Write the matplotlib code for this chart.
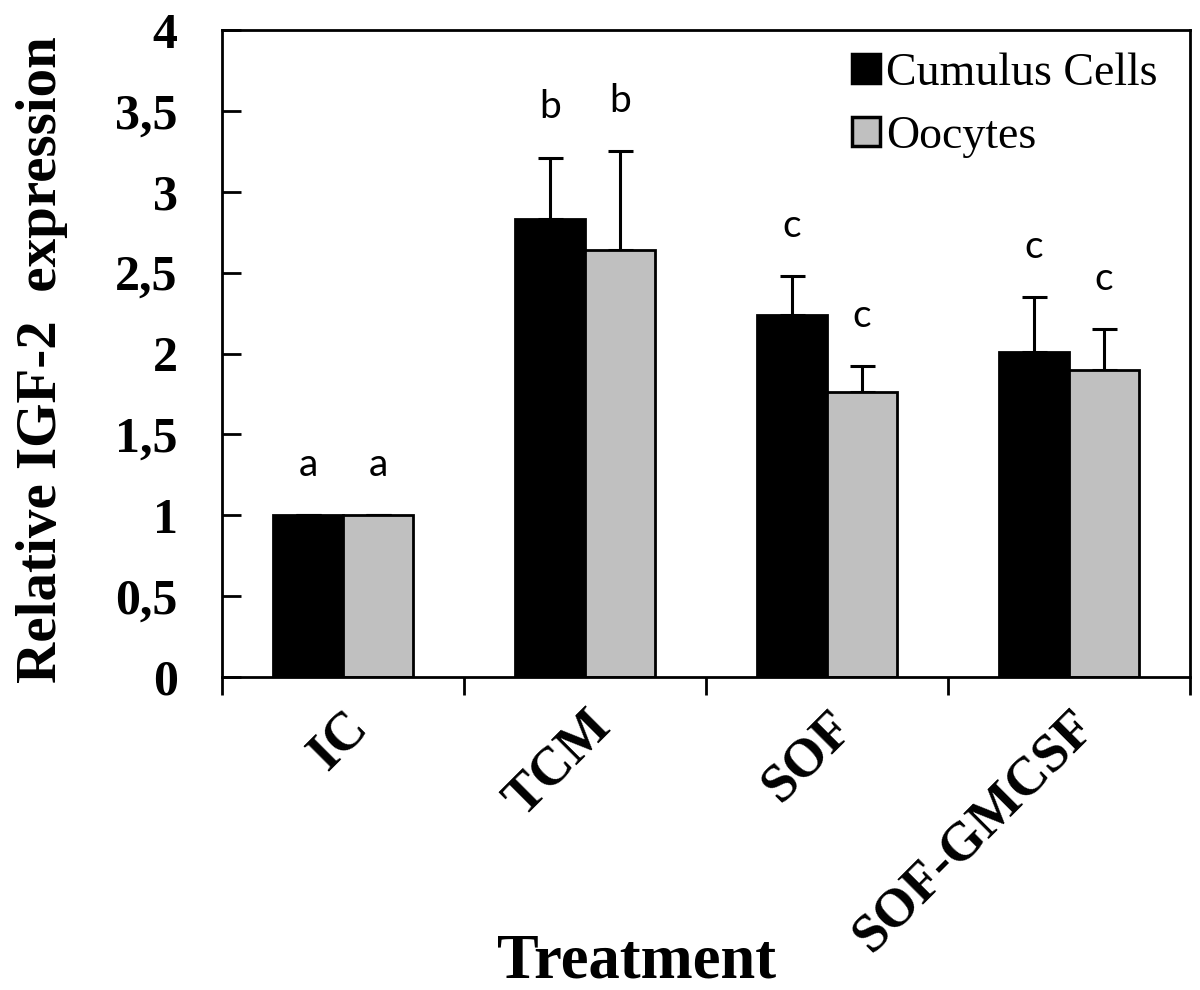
import numpy as np
import matplotlib
matplotlib.use("Agg")
import matplotlib.pyplot as plt

# data
treatments = ["IC", "TCM", "SOF", "SOF-GMCSF"]
cumulus_mean = [1.0, 2.83, 2.24, 2.01]
cumulus_err = [0.0, 0.38, 0.24, 0.34]
oocyte_mean = [1.0, 2.64, 1.76, 1.90]
oocyte_err = [0.0, 0.61, 0.16, 0.25]
cumulus_letters = ["a", "b", "c", "c"]
oocyte_letters = ["a", "b", "c", "c"]
yticks = [0, 0.5, 1, 1.5, 2, 2.5, 3, 3.5, 4]
ytick_labels = ["0", "0,5", "1", "1,5", "2", "2,5", "3", "3,5", "4"]

serif = "Liberation Serif"

fig = plt.figure(figsize=(12, 9.9), dpi=100)
ax = fig.add_axes([222 / 1200, 1 - 677 / 990, (1190 - 222) / 1200, (677 - 30) / 990])

x = np.arange(len(treatments))
w = 0.29

ax.bar(x - w / 2, cumulus_mean, w, color="black", edgecolor="black", linewidth=2,
       label="Cumulus Cells", zorder=2)
ax.bar(x + w / 2, oocyte_mean, w, color="#c0c0c0", edgecolor="black", linewidth=2,
       label="Oocytes", zorder=2)

# upper error bars only
ax.errorbar(x - w / 2, cumulus_mean, yerr=[np.zeros(4), cumulus_err], fmt="none",
            ecolor="black", elinewidth=2.2, capsize=9, capthick=2.2, zorder=1)
ax.errorbar(x + w / 2, oocyte_mean, yerr=[np.zeros(4), oocyte_err], fmt="none",
            ecolor="black", elinewidth=2.2, capsize=9, capthick=2.2, zorder=1)

# significance letters
for i in range(len(treatments)):
    ax.text(x[i] - w / 2, cumulus_mean[i] + cumulus_err[i] + 0.2, cumulus_letters[i],
            ha="center", va="bottom", fontsize=28, family="Lato")
    ax.text(x[i] + w / 2, oocyte_mean[i] + oocyte_err[i] + 0.2, oocyte_letters[i],
            ha="center", va="bottom", fontsize=28, family="Lato")

ax.set_xlim(-0.5, 3.5)
ax.set_ylim(0, 4)

ax.set_yticks(yticks)
ax.set_yticklabels(ytick_labels, family=serif, fontweight="bold", fontsize=36)
ax.tick_params(axis="y", direction="in", length=14, width=2, pad=32)

# category ticks sit between groups, labels at group centres
ax.set_xticks(np.arange(-0.5, 4, 1))
ax.set_xticklabels([])
ax.tick_params(axis="x", direction="out", length=13, width=2)
ax.set_xticks(x, minor=True)
ax.set_xticklabels(treatments, minor=True, rotation=45, ha="right",
                   rotation_mode="anchor", family=serif, fontweight="bold", fontsize=39)
ax.tick_params(axis="x", which="minor", length=0, pad=18)

for s in ax.spines.values():
    s.set_linewidth(2)

leg = ax.legend(loc="upper right", bbox_to_anchor=(1.0, 1.015), frameon=False,
                prop={"family": serif, "size": 33}, handlelength=0.6, handleheight=0.6,
                handletextpad=0.15, labelspacing=0.45, borderaxespad=0.3)
for h in leg.legend_handles:
    h.set_linewidth(2.5)

fig.text(637 / 1200, 1 - 962 / 990, "Treatment", ha="center", va="center",
         family=serif, fontweight="bold", fontsize=45)
fig.text(42 / 1200, 1 - 360 / 990, "Relative IGF-2  expression", ha="center", va="center",
         rotation=90, family=serif, fontweight="bold", fontsize=41)

fig.savefig("out.png", dpi=100)
